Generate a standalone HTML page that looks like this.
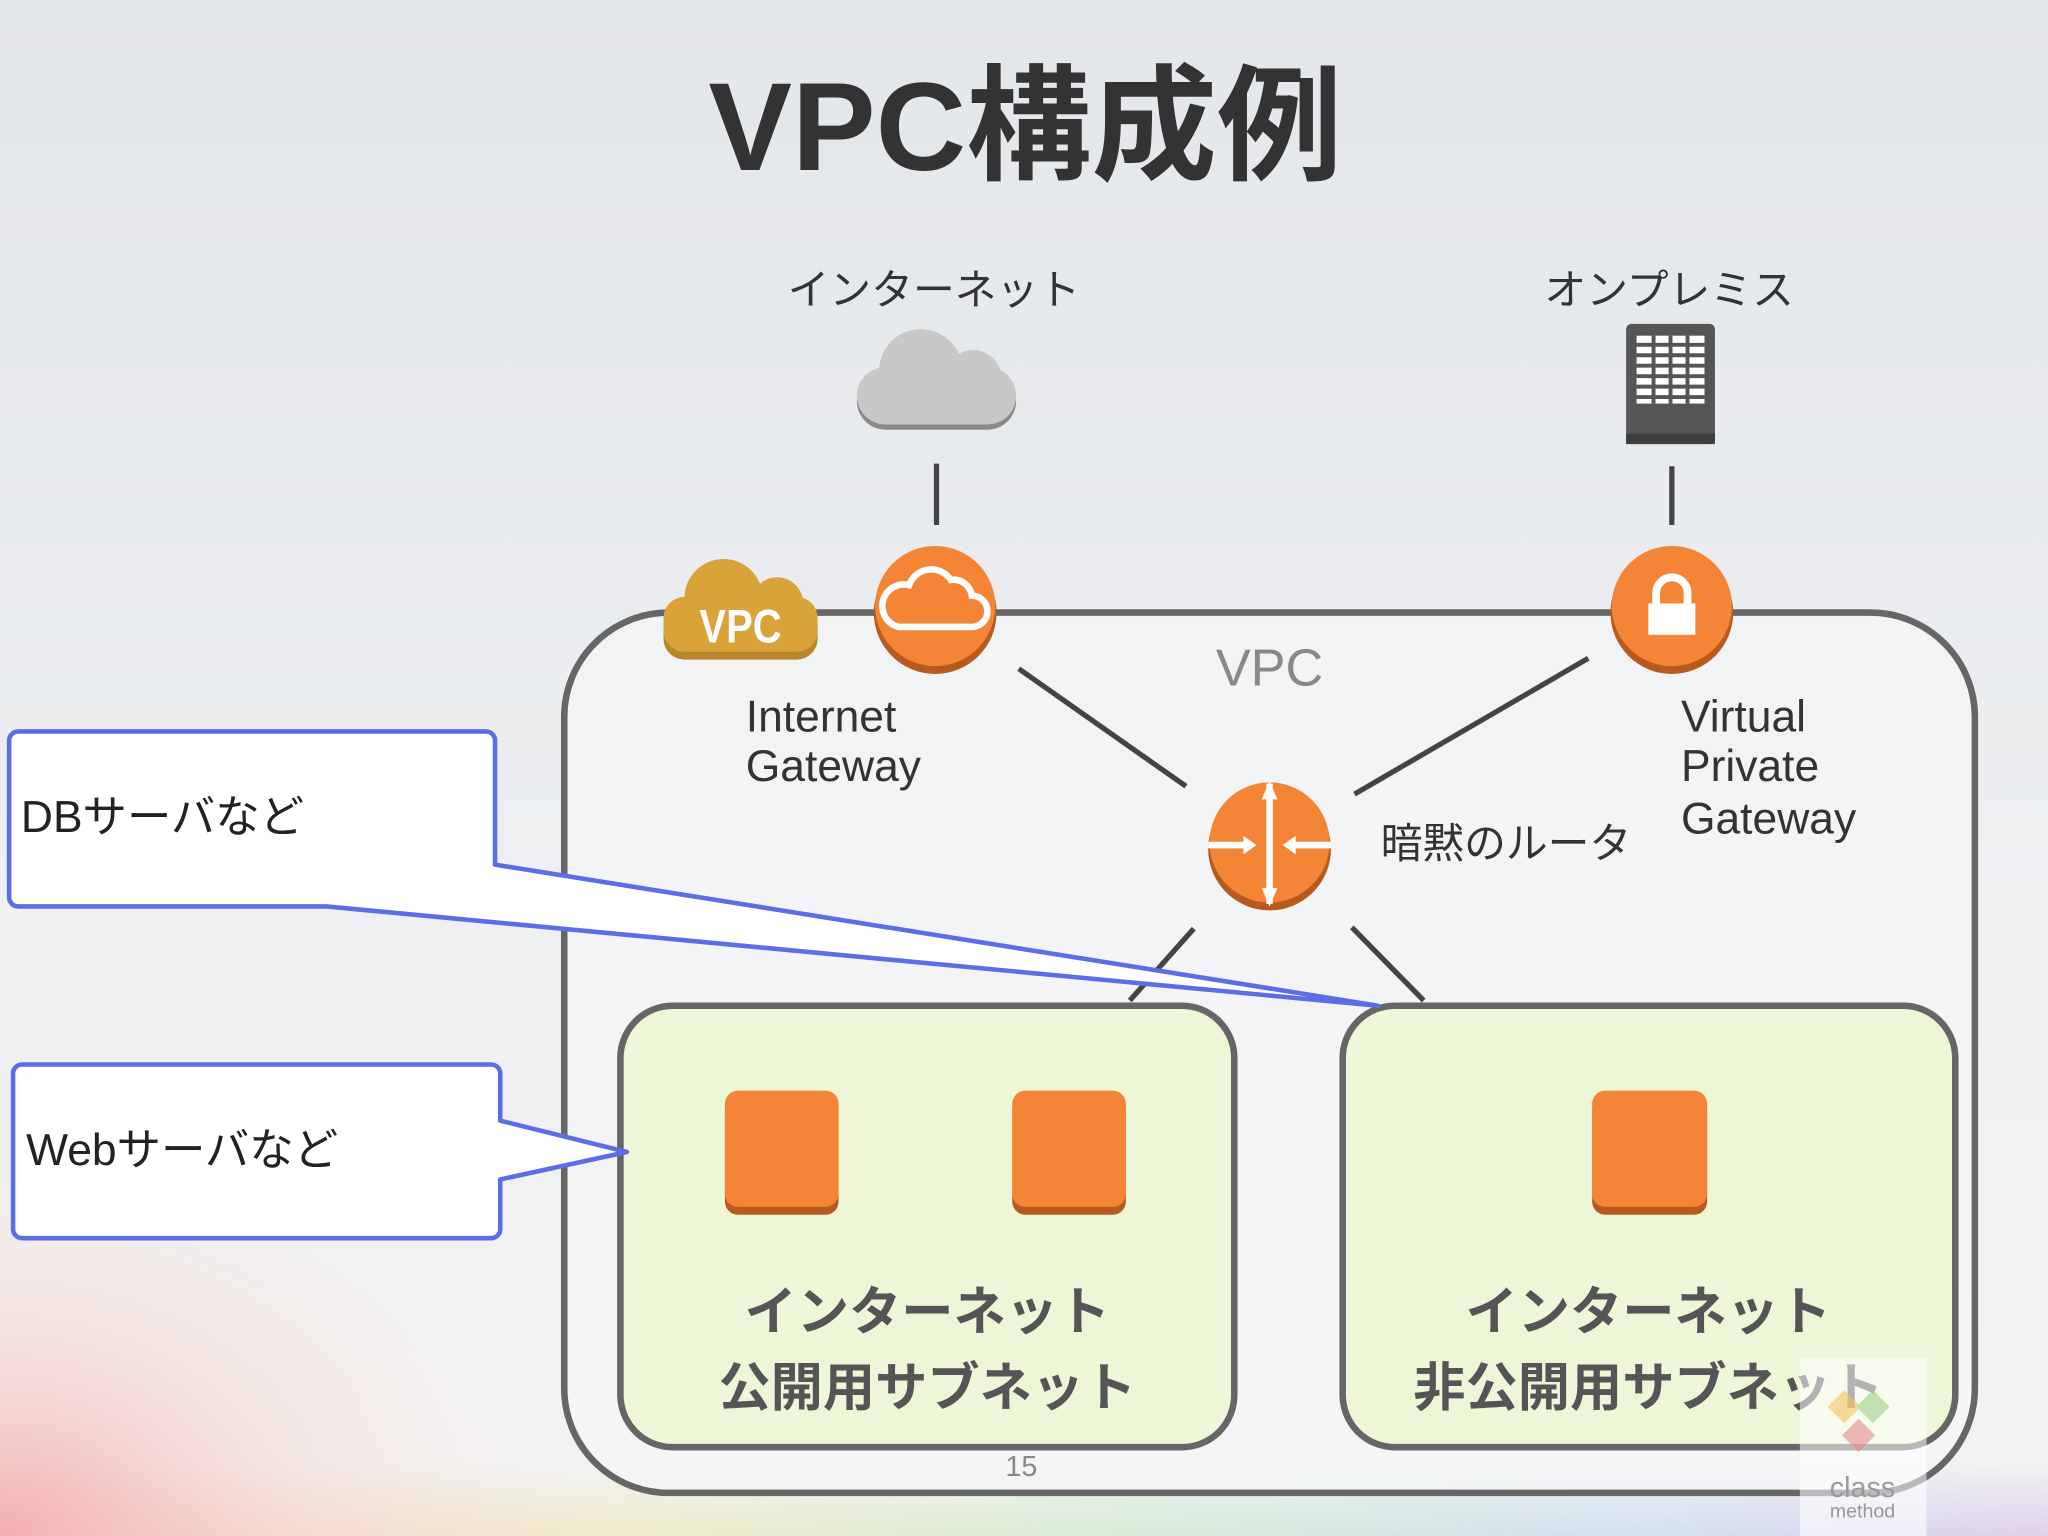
<!DOCTYPE html>
<html><head><meta charset="utf-8"><style>
html,body{margin:0;padding:0;width:2048px;height:1536px;overflow:hidden;}
svg{display:block;}
text{font-family:"Liberation Sans","Noto Sans CJK JP",sans-serif;}
</style></head><body>
<svg width="2048" height="1536" viewBox="0 0 1568 1176" xmlns="http://www.w3.org/2000/svg">
<defs>
<linearGradient id="bg" x1="0" y1="0" x2="0" y2="1">
<stop offset="0" stop-color="#e3e6ea"/><stop offset="0.6" stop-color="#eef0f2"/><stop offset="1" stop-color="#f4f2f2"/>
</linearGradient>
<radialGradient id="pink" cx="0" cy="1" r="0.3">
<stop offset="0" stop-color="#f3b0b0"/><stop offset="0.5" stop-color="#f6dcd5" stop-opacity="0.5"/><stop offset="1" stop-color="#f4f2f2" stop-opacity="0"/>
</radialGradient>
<linearGradient id="rb" x1="0" y1="0" x2="1" y2="0">
<stop offset="0" stop-color="#f6c0b8"/><stop offset="0.3" stop-color="#f2ecc0"/><stop offset="0.55" stop-color="#d0ecd0"/><stop offset="0.8" stop-color="#c8dcf0"/><stop offset="1" stop-color="#dcc8ec"/>
</linearGradient>
<linearGradient id="rbf" x1="0" y1="0" x2="0" y2="1">
<stop offset="0" stop-color="#fff" stop-opacity="1"/><stop offset="1" stop-color="#fff" stop-opacity="0"/>
</linearGradient>
<mask id="m"><rect y="1120" width="1568" height="56" fill="url(#rbf)"/></mask>
</defs>
<rect width="1568" height="1176" fill="url(#bg)"/>
<rect y="1120" width="1568" height="56" fill="url(#rb)" opacity="0.8"/>
<rect y="1120" width="1568" height="56" fill="#f1f2f3" mask="url(#m)"/>
<rect width="1568" height="1176" fill="url(#pink)"/>

<text x="785" y="130" font-size="96" font-weight="bold" fill="#333" text-anchor="middle">VPC構成例</text>

<text x="715" y="233" font-size="32" fill="#333" text-anchor="middle">インターネット</text>
<text x="1278" y="233" font-size="32" fill="#333" text-anchor="middle">オンプレミス</text>

<g fill="#c8c8c8">
<rect x="656" y="285" width="122" height="44" rx="22" fill="#8a8a8a"/>
<rect x="656" y="281" width="122" height="44" rx="22"/>
<circle cx="705" cy="284" r="32"/><circle cx="745" cy="290" r="22"/>
</g>
<line x1="717" y1="355" x2="717" y2="402" stroke="#444" stroke-width="4"/>
<rect x="1245" y="248" width="68" height="92" rx="4" fill="#555"/>
<rect x="1245" y="332" width="68" height="8" fill="#3e3e3e"/>
<rect x="1253" y="257" width="52" height="52" fill="#fff"/>
<g stroke="#555" stroke-width="3">
<line x1="1253" y1="264" x2="1305" y2="264"/><line x1="1253" y1="272" x2="1305" y2="272"/><line x1="1253" y1="280" x2="1305" y2="280"/><line x1="1253" y1="288" x2="1305" y2="288"/><line x1="1253" y1="296" x2="1305" y2="296"/><line x1="1253" y1="304" x2="1305" y2="304"/>
<line x1="1266" y1="257" x2="1266" y2="309"/><line x1="1279" y1="257" x2="1279" y2="309"/><line x1="1292" y1="257" x2="1292" y2="309"/>
</g>
<line x1="1280" y1="357" x2="1280" y2="402" stroke="#444" stroke-width="4"/>

<rect x="432" y="469" width="1080" height="674" rx="80" fill="#f6f6f8" fill-opacity="0.6" stroke="#666" stroke-width="5"/>
<text x="972" y="525" font-size="40" fill="#888" text-anchor="middle">VPC</text>

<rect x="508" y="463" width="118" height="42" rx="16" fill="#b8872a"/>
<g fill="#d9a33a">
<rect x="508" y="457" width="118" height="42" rx="16"/>
<circle cx="554" cy="458" r="30"/><circle cx="595" cy="462" r="20"/>
</g>
<text x="567" y="492" font-size="36" font-weight="bold" fill="#fff" text-anchor="middle" transform="scale(0.85,1) translate(100,0)">VPC</text>

<circle cx="716" cy="469" r="47" fill="#b85a1e"/>
<circle cx="716" cy="464" r="46" fill="#f58536"/>
<path d="M688 480 h56 a12 12 0 0 0 0-24 a14 14 0 0 0-16-12 a18 18 0 0 0-32 4 a12 12 0 0 0-8 32z" fill="none" stroke="#fff" stroke-width="5"/>
<circle cx="1280" cy="469" r="47" fill="#b85a1e"/>
<circle cx="1280" cy="464" r="46" fill="#f58536"/>
<rect x="1262" y="462" width="36" height="24" fill="#fff"/>
<path d="M1268 462 v-8 a12 12 0 0 1 24 0 v8" fill="none" stroke="#fff" stroke-width="6"/>

<text x="571" y="560" font-size="34" fill="#333">Internet</text>
<text x="571" y="598" font-size="34" fill="#333">Gateway</text>
<text x="1287" y="560" font-size="34" fill="#333">Virtual</text>
<text x="1287" y="598" font-size="34" fill="#333">Private</text>
<text x="1287" y="638" font-size="34" fill="#333">Gateway</text>

<g stroke="#444" stroke-width="4">
<line x1="780" y1="512" x2="908" y2="602"/>
<line x1="1216" y1="504" x2="1037" y2="608"/>
<line x1="914" y1="711" x2="865" y2="766"/>
<line x1="1035" y1="710" x2="1090" y2="766"/>
</g>

<circle cx="972" cy="650" r="47" fill="#b85a1e"/>
<circle cx="972" cy="645" r="46" fill="#f58536"/>
<g stroke="#fff" stroke-width="5" fill="none">
<line x1="972" y1="600" x2="972" y2="692"/>
<line x1="925" y1="647" x2="958" y2="647"/>
<line x1="986" y1="647" x2="1019" y2="647"/>
</g>
<g fill="#fff">
<path d="M962 647 l-10 -7 v14z"/><path d="M982 647 l10 -7 v14z"/>
<path d="M972 598 l-6 14 h12z"/><path d="M972 694 l-6 -14 h12z"/>
</g>
<text x="1057" y="657" font-size="32" fill="#333">暗黙のルータ</text>

<rect x="475" y="770" width="470" height="338" rx="40" fill="#eef6d8" stroke="#666" stroke-width="5"/>
<rect x="1028" y="770" width="469" height="338" rx="40" fill="#eef6d8" stroke="#666" stroke-width="5"/>
<g>
<rect x="555" y="840" width="87" height="90" rx="10" fill="#b85a1e"/>
<rect x="555" y="835" width="87" height="89" rx="10" fill="#f58536"/>
<rect x="775" y="840" width="87" height="90" rx="10" fill="#b85a1e"/>
<rect x="775" y="835" width="87" height="89" rx="10" fill="#f58536"/>
<rect x="1219" y="840" width="88" height="90" rx="10" fill="#b85a1e"/>
<rect x="1219" y="835" width="88" height="89" rx="10" fill="#f58536"/>
</g>
<g font-size="40" font-weight="bold" fill="#555" text-anchor="middle">
<text x="710" y="1018">インターネット</text>
<text x="710" y="1076">公開用サブネット</text>
<text x="1262" y="1018">インターネット</text>
<text x="1262" y="1076">非公開用サブネット</text>
</g>

<path d="M14 560 H372 a7 7 0 0 1 7 7 V662 L1055 770 L250 694 H14 a7 7 0 0 1-7-7 V567 a7 7 0 0 1 7-7z" fill="#fff" stroke="#5b6ee8" stroke-width="3.5" stroke-linejoin="round"/>
<text x="16" y="637" font-size="34" fill="#222">DBサーバなど</text>
<path d="M17 815 H376 a7 7 0 0 1 7 7 V858 L480 882 L383 903 V941 a7 7 0 0 1-7 7 H17 a7 7 0 0 1-7-7 V822 a7 7 0 0 1 7-7z" fill="#fff" stroke="#5b6ee8" stroke-width="3.5" stroke-linejoin="round"/>
<text x="20" y="892" font-size="34" fill="#222">Webサーバなど</text>

<text x="782" y="1130" font-size="22" fill="#888" text-anchor="middle">15</text>
<rect x="1378" y="1040" width="97" height="136" fill="#fff" opacity="0.55"/>
<g opacity="0.6">
<rect x="1403" y="1068" width="18" height="18" fill="#f5c35a" transform="rotate(45 1412 1077)"/>
<rect x="1425" y="1068" width="18" height="18" fill="#9fd08a" transform="rotate(45 1434 1077)"/>
<rect x="1414" y="1090" width="18" height="18" fill="#e88a8a" transform="rotate(45 1423 1099)"/>
</g>
<text x="1426" y="1146" font-size="22" fill="#999" text-anchor="middle">class</text>
<text x="1426" y="1162" font-size="15" fill="#999" text-anchor="middle">method</text>
</svg>
</body></html>
